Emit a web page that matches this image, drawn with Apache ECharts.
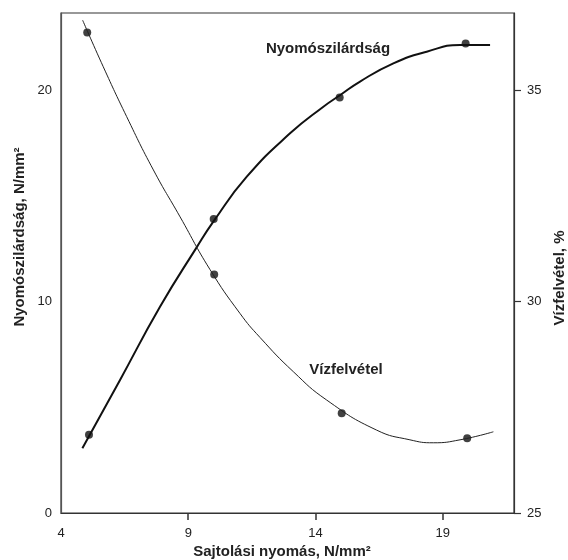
<!DOCTYPE html>
<html>
<head>
<meta charset="utf-8">
<script src="https://cdn.jsdelivr.net/npm/echarts@6/dist/echarts.min.js"></script>
<style>html,body{margin:0;padding:0;background:#fff}#c{width:568px;height:560px}</style>
</head>
<body>
<div id="c"></div>
<script>
// Tick labels
var xTicks = [4, 9, 14, 19];
var leftTicks = [0, 10, 20];
var rightTicks = [25, 30, 35];

// Measured points: Nyomószilárdság (left axis)
var strengthX = [5.1, 10.0, 14.95, 19.9];
var strengthY = [3.7, 13.9, 19.65, 22.2];

// Fitted curve for Nyomószilárdság
var strengthCurveX = [4.84, 6.32, 7.89, 9.33, 10.0, 11.3, 13.0, 14.31, 14.96, 15.75, 17.06, 18.37, 19.68, 20.86];
var strengthCurveY = [3.06, 6.29, 9.75, 12.56, 13.8, 15.9, 17.95, 19.21, 19.75, 20.4, 21.26, 21.81, 22.13, 22.13];

// Measured points: Vízfelvétel (right axis)
var waterX = [5.03, 10.02, 15.03, 19.96];
var waterY = [36.36, 30.64, 27.36, 26.77];

// Fitted curve for Vízfelvétel
var waterCurveX = [4.85, 5.66, 6.58, 7.63, 8.68, 9.85, 11.03, 11.82, 13.13, 14.44, 16.4, 17.71, 18.63, 19.68, 20.99];
var waterCurveY = [36.65, 35.55, 34.37, 33.11, 32.0, 30.76, 29.72, 29.15, 28.34, 27.67, 26.96, 26.73, 26.66, 26.73, 26.92];

function zip(a, b) { return a.map(function (v, i) { return [v, b[i]]; }); }

var chart = echarts.init(document.getElementById('c'));
var font = 'Liberation Sans, Arial, Helvetica, sans-serif';
chart.setOption({
  animation: false,
  backgroundColor: '#fff',
  grid: { left: 61, right: 54, top: 13, bottom: 47, show: true, borderColor: '#333', borderWidth: 1.2, backgroundColor: 'transparent' },
  xAxis: {
    type: 'value', min: 4, max: 21.8,
    axisLine: { show: true, lineStyle: { color: '#333', width: 1.2 } },
    axisTick: { show: true, customValues: [9, 14, 19], length: 7, lineStyle: { color: '#333', width: 1.5 } },
    axisLabel: { customValues: xTicks, margin: 14, color: '#222', fontSize: 13, fontFamily: font },
    splitLine: { show: false }
  },
  yAxis: [{
    type: 'value', min: 0, max: 23.64, position: 'left',
    axisLine: { show: true, lineStyle: { color: '#555', width: 1.2 } },
    axisTick: { show: false },
    axisLabel: { customValues: leftTicks, margin: 9, color: '#222', fontSize: 13, fontFamily: font },
    splitLine: { show: false }
  }, {
    type: 'value', min: 25, max: 36.82, position: 'right',
    axisLine: { show: true, lineStyle: { color: '#333', width: 1.2 } },
    axisTick: { show: true, customValues: rightTicks, length: 7, lineStyle: { color: '#333', width: 1.2 } },
    axisLabel: { customValues: rightTicks, margin: 13, color: '#222', fontSize: 13, fontFamily: font },
    splitLine: { show: false }
  }],
  series: [{
    type: 'line', yAxisIndex: 0, data: zip(strengthCurveX, strengthCurveY),
    smooth: 0.5, showSymbol: false, lineStyle: { color: '#111', width: 2 }, silent: true
  }, {
    type: 'scatter', yAxisIndex: 0, data: zip(strengthX, strengthY),
    symbol: 'circle', symbolSize: 8, itemStyle: { color: '#111' }
  }, {
    type: 'line', yAxisIndex: 1, data: zip(waterCurveX, waterCurveY),
    smooth: 0.5, showSymbol: false, lineStyle: { color: '#222', width: 1 }, silent: true
  }, {
    type: 'scatter', yAxisIndex: 1, data: zip(waterX, waterY),
    symbol: 'circle', symbolSize: 8, itemStyle: { color: '#111' }
  }],
  graphic: [
    { type: 'text', x: 282, y: 552, style: { text: 'Sajtolási nyomás, N/mm²', font: 'bold 15px ' + font, fill: '#222', textAlign: 'center', textVerticalAlign: 'middle' } },
    { type: 'text', x: 20, y: 237, rotation: Math.PI / 2, style: { text: 'Nyomószilárdság, N/mm²', font: 'bold 15px ' + font, fill: '#222', textAlign: 'center', textVerticalAlign: 'middle' } },
    { type: 'text', x: 560, y: 278, rotation: Math.PI / 2, style: { text: 'Vízfelvétel, %', font: 'bold 15px ' + font, fill: '#222', textAlign: 'center', textVerticalAlign: 'middle' } },
    { type: 'text', x: 328, y: 49, style: { text: 'Nyomószilárdság', font: 'bold 15px ' + font, fill: '#222', textAlign: 'center', textVerticalAlign: 'middle' } },
    { type: 'text', x: 346, y: 370, style: { text: 'Vízfelvétel', font: 'bold 15px ' + font, fill: '#222', textAlign: 'center', textVerticalAlign: 'middle' } }
  ]
});
</script>
</body>
</html>
